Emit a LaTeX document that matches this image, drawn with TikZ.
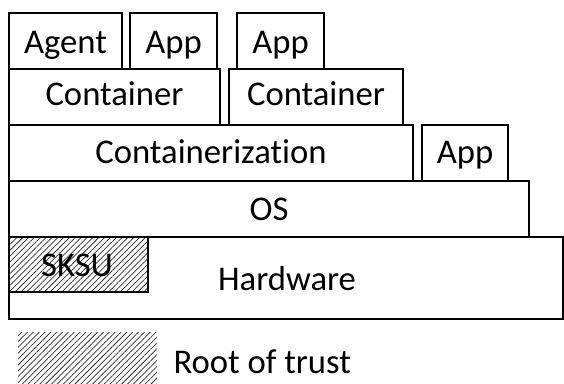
\documentclass[tikz,border=0pt]{standalone}
\usepackage{fontspec}
\setmainfont[Ligatures=NoCommon]{Carlito}
\usetikzlibrary{patterns.meta}

\tikzset{every picture/.style={line width=0.75pt}}
\tikzset{layer/.style={draw=black,line width=1.5pt},
  txt/.style={anchor=base,font=\fontsize{26}{30}\selectfont,inner sep=0pt},
  hatched/.style={pattern={Lines[angle=45,distance=3.1pt,line width=0.55pt]},pattern color=black!80}}

\begin{document}
\begin{tikzpicture}[x=0.75pt,y=0.75pt,yscale=-1,xscale=1]
\useasboundingbox (0,0) rectangle (564,383);

%Shape: Rectangle [Hardware]
\draw[layer] (9,237) rectangle (563,319);
%Shape: Rectangle [SKSU]
\draw[layer,hatched] (9,237) rectangle (148,292);
%Shape: Rectangle [OS]
\draw[layer] (9,181) rectangle (529,237);
%Shape: Rectangle [Containerization]
\draw[layer] (9,125) rectangle (413,181);
%Shape: Rectangle [App 3]
\draw[layer] (422,125) rectangle (508,181);
%Shape: Rectangle [Container 1]
\draw[layer] (9,69) rectangle (220,125);
%Shape: Rectangle [Container 2]
\draw[layer] (229,69) rectangle (403,125);
%Shape: Rectangle [Agent]
\draw[layer] (9,13) rectangle (122,69);
%Shape: Rectangle [App 1]
\draw[layer] (130,13) rectangle (217,69);
%Shape: Rectangle [App 2]
\draw[layer] (237,13) rectangle (324,69);
%Shape: Rectangle [legend]
\path[hatched] (18,332) rectangle (157,383);

% Text Node
\node[txt] (agent) at (65.5,53) {Agent};
% Text Node
\node[txt] (appa) at (173.5,53) {App};
% Text Node
\node[txt] (appb) at (280.5,53) {App};
% Text Node
\node[txt] (conta) at (114.5,105) {Container};
% Text Node
\node[txt] (contb) at (316,105) {Container};
% Text Node
\node[txt] (ctz) at (211,163) {Containerization};
% Text Node
\node[txt] (appc) at (465,163) {App};
% Text Node
\node[txt] (os) at (269,220) {OS};
% Text Node
\node[txt] (sksu) at (77,276) {SKSU};
% Text Node
\node[txt] (hw) at (287,290) {Hardware};
% Text Node
\node[txt,anchor=base west] (rot) at (173,373) {Root of trust};

\end{tikzpicture}
\end{document}
